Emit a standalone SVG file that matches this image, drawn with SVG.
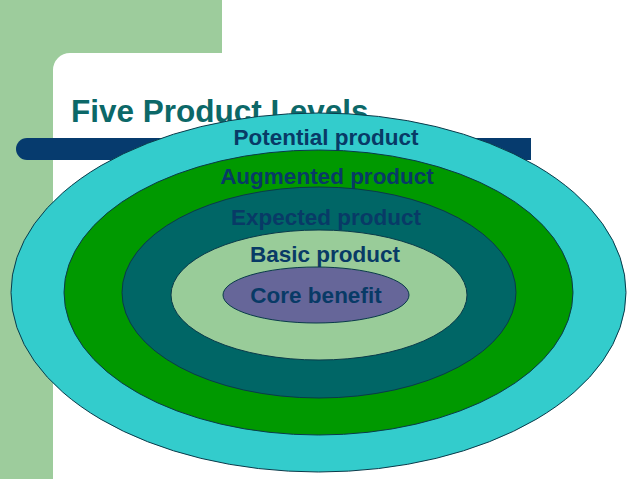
<svg xmlns="http://www.w3.org/2000/svg" width="638" height="479" viewBox="0 0 638 479">
<style>
.ring{stroke:#0a3a4a;stroke-width:1}
.lbl{font-family:"Liberation Sans",Arial,sans-serif;font-weight:bold;font-size:22.5px;fill:#083a66;text-anchor:middle}
.title{font-family:"Liberation Sans",Arial,sans-serif;font-weight:bold;font-size:31.5px;fill:#0c6868}
</style>
<rect x="0" y="0" width="638" height="479" fill="#ffffff"/>
<g id="background">
<rect x="0" y="0" width="222" height="53" fill="#9dcc9c"/>
<rect x="0" y="0" width="53" height="479" fill="#9dcc9c"/>
<path d="M53 53 H70 A17 17 0 0 0 53 70 Z" fill="#9dcc9c"/>
<path d="M27 138 H531 V160 H27 A11 11 0 0 1 27 138 Z" fill="#063b6e"/>
<text class="title" x="71" y="122">Five Product Levels</text>
</g>
<g id="potential">
<ellipse class="ring" cx="318.5" cy="292.5" rx="307.5" ry="179.5" fill="#33cccc"/>
<text class="lbl" x="326" y="145">Potential product</text>
</g>
<g id="augmented">
<ellipse class="ring" cx="318.5" cy="292.5" rx="254.5" ry="142.5" fill="#009900"/>
<text class="lbl" x="327" y="184">Augmented product</text>
</g>
<g id="expected">
<ellipse class="ring" cx="319" cy="292.5" rx="197" ry="105.5" fill="#006666"/>
<text class="lbl" x="326" y="225">Expected product</text>
</g>
<g id="basic">
<ellipse class="ring" cx="319" cy="295" rx="148" ry="65" fill="#99cc99"/>
<text class="lbl" x="325" y="262">Basic product</text>
</g>
<g id="core">
<ellipse class="ring" cx="316" cy="295" rx="93" ry="28" fill="#666699"/>
<text class="lbl" x="316" y="303">Core benefit</text>
</g>
<g id="connectors"></g>
</svg>
